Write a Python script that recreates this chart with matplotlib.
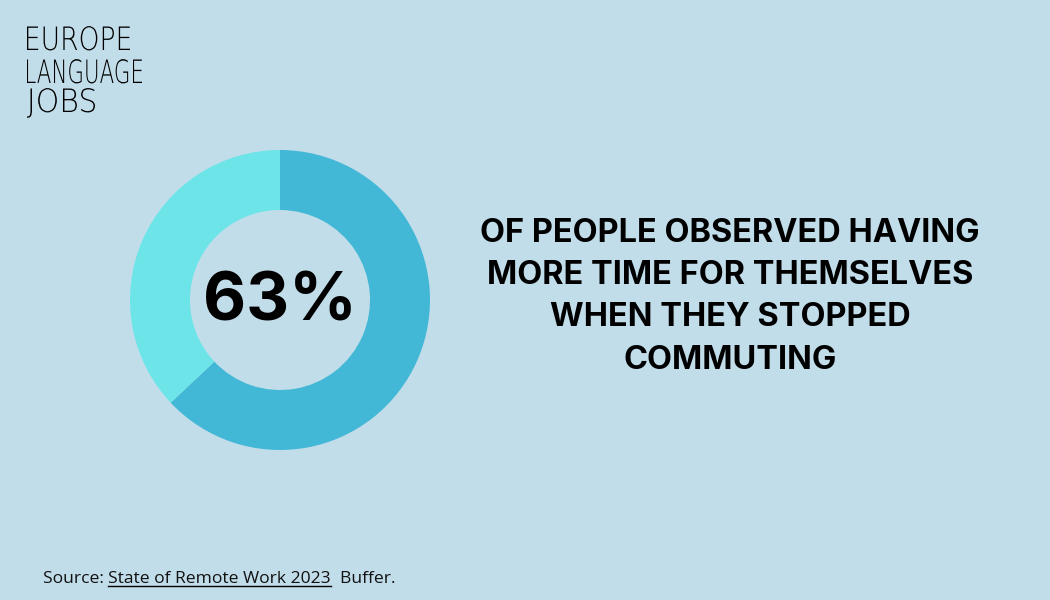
import matplotlib
matplotlib.use('Agg')
import matplotlib.pyplot as plt
from matplotlib.textpath import TextPath
from matplotlib.patches import PathPatch
from matplotlib.font_manager import FontProperties
from matplotlib.transforms import Affine2D

# data
labels = ['More time for themselves', 'Other']
values = [63, 37]
colors = ['#42B8D6', '#6DE5E8']
big_label = '63%'
headline = ['OF PEOPLE OBSERVED HAVING', 'MORE TIME FOR THEMSELVES',
            'WHEN THEY STOPPED', 'COMMUTING']
logo = ['EUROPE', 'LANGUAGE', 'JOBS']

bg = '#C2DDEA'
W, H = 1050, 600

fig = plt.figure(figsize=(W / 100, H / 100), dpi=100)
fig.patch.set_facecolor(bg)

# full-figure axes in pixel units (y up) for the logo
base = fig.add_axes([0, 0, 1, 1])
base.set_xlim(0, W)
base.set_ylim(0, H)
base.axis('off')

# donut
ax = fig.add_axes([130 / W, (H - 450) / H, 300 / W, 300 / H])
ax.set_facecolor(bg)
ax.pie(values, colors=colors, startangle=90, counterclock=False,
       radius=1.0, wedgeprops=dict(width=0.4, edgecolor='none'))
ax.set_aspect('equal')
ax.set_xlim(-1, 1)
ax.set_ylim(-1, 1)
ax.axis('off')
ax.text(0, -0.02, big_label, ha='center', va='center', fontsize=48,
        fontweight='bold', family=['Inter', 'DejaVu Sans'], color='black')

# headline
for i, line in enumerate(headline):
    fig.text(730 / W, 1 - (233 + i * 42.5) / H, line, ha='center', va='center',
             fontsize=23.4, fontweight='bold', family=['Inter', 'DejaVu Sans'],
             color='black')

# logo: thin, condensed lettering
fp = FontProperties(family='DejaVu Sans', weight='light')
cap = TextPath((0, 0), 'E', size=32, prop=fp).get_extents().height
sy = 23.5 / cap
logo_base = [50, 83, 112]
logo_width = [103, 115, 68]
for line, yb, wd in zip(logo, logo_base, logo_width):
    tp = TextPath((0, 0), line, size=32, prop=fp)
    ext = tp.get_extents()
    sx = wd / ext.width
    tr = Affine2D().translate(-ext.x0, 0).scale(sx, sy).translate(27, H - yb)
    base.add_patch(PathPatch(tr.transform_path(tp), facecolor='black',
                             edgecolor='none'))

# source line with underlined title
fig.canvas.draw()
r = fig.canvas.get_renderer()
y_src = 1 - 583 / H
x = 43 / W
parts = [('Source: ', False), ('State of Remote Work 2023', True), ('  Buffer.', False)]
for s, under in parts:
    t = fig.text(x, y_src, s, ha='left', va='baseline', fontsize=12.6,
                 family=['Open Sans', 'DejaVu Sans'], color='#111111')
    bb = t.get_window_extent(renderer=r)
    if under:
        x0, x1 = bb.x0 / W, bb.x1 / W
        yl = 1 - 585.5 / H
        fig.add_artist(plt.Line2D([x0, x1], [yl, yl], color='black', lw=1))
    x = bb.x1 / W

fig.savefig('out.png', dpi=100, facecolor=bg)
